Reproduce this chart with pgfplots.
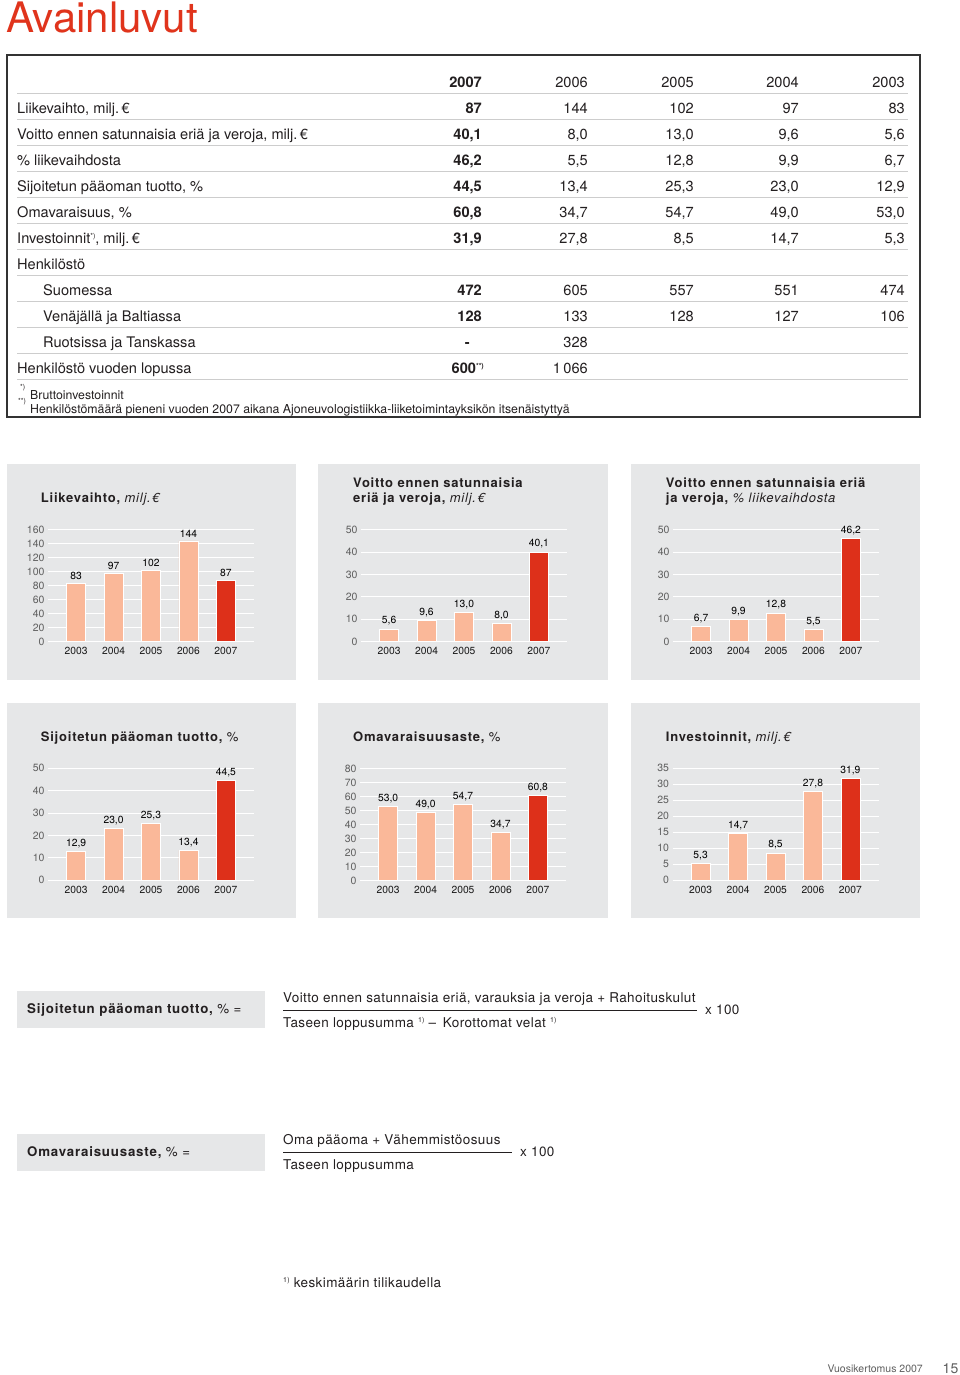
\documentclass[border=0pt]{standalone}
\usepackage{fontspec}
\setmainfont{TeX Gyre Heros}
\newfontfamily\ttlfont[LetterSpace=6]{TeX Gyre Heros}
\newfontfamily\frmfont[LetterSpace=3]{TeX Gyre Heros}
\usepackage{pgfplots}
\pgfplotsset{compat=1.18}

\definecolor{akred}{RGB}{224,52,28}
\definecolor{barlight}{RGB}{250,184,153}
\definecolor{bardark}{RGB}{221,48,26}
\definecolor{panel}{RGB}{230,231,232}
\definecolor{rulegray}{RGB}{205,205,205}
\definecolor{ink}{RGB}{35,31,32}
\definecolor{tickgray}{RGB}{95,95,95}

\newcommand\tb{\fontsize{14.6}{16}\selectfont}
\newcommand\fsup[1]{\raisebox{5pt}{\fontsize{7}{7}\selectfont #1}}
\newcommand\ttl{\ttlfont\fontsize{13}{15}\selectfont\bfseries}
\newcommand\subt{\itshape\mdseries}

% table row: baseline, label, 2007, 2006, 2005, 2004, 2003
\newcommand\trow[7]{%
  \node[anchor=base west] at (17,#1) {#2};
  \node[anchor=base east] at (482,#1) {\bfseries #3};
  \node[anchor=base east] at (588,#1) {#4};
  \node[anchor=base east] at (694,#1) {#5};
  \node[anchor=base east] at (799,#1) {#6};
  \node[anchor=base east] at (905,#1) {#7};
}

\pgfplotsset{
  kpi/.style={
    ybar, scale only axis, width=206pt, height=112pt,
    anchor=south west,
    xmin=-0.75, xmax=4.75, ymin=0,
    axis line style={draw=none}, major tick length=0pt,
    ymajorgrids, grid style={white, line width=1.1pt},
    xtick={0,1,2,3,4}, xticklabels={2003,2004,2005,2006,2007},
    xticklabel style={font=\fontsize{10.3}{12}\selectfont, text=black!90, yshift=-2pt},
    yticklabel style={font=\fontsize{10.5}{12}\selectfont, text=tickgray},
    /pgf/number format/assume math mode=true,
    every node near coord/.append style={font=\fontsize{10.3}{12}\selectfont, text=black},
    clip=false,
  },
  onedec/.style={nodes near coords={\pgfmathprintnumber[fixed,fixed zerofill,precision=1,use comma]{\pgfplotspointmeta}}},
  lightbar/.style={fill=barlight, draw=white, line width=0.7pt, bar shift=0pt, bar width=19pt},
  darkbar/.style={fill=bardark, draw=white, line width=0.7pt, bar shift=0pt, bar width=19pt},
}

\begin{document}
\begin{tikzpicture}
\begin{scope}[x=1pt,y=-1pt,every node/.style={inner sep=0pt, text=ink}]
\path[use as bounding box, fill=white] (0,0) rectangle (960,1375);

% title
\node[anchor=base west, text=akred] at (6,32.5) {\fontsize{42}{46}\selectfont Avainluvut};

% key figures table
\draw[line width=1.2pt, draw=black!80] (7,55) rectangle (920,417);
\foreach \y in {93.5,119.5,145.5,171.5,197.5,223.5,249.5,275.5,301.5,327.5,353.5,379.5}
  \draw[rulegray, line width=1.2pt] (17,\y) -- (908,\y);
\begin{scope}[font=\tb]
\trow{87.5}{}{2007}{2006}{2005}{2004}{2003}
\trow{113.5}{Liikevaihto, milj.\,€}{87}{144}{102}{97}{83}
\trow{139.5}{Voitto ennen satunnaisia eriä ja veroja, milj.\,€}{40,1}{8,0}{13,0}{9,6}{5,6}
\trow{165.5}{\% liikevaihdosta}{46,2}{5,5}{12,8}{9,9}{6,7}
\trow{191.5}{Sijoitetun pääoman tuotto, \%}{44,5}{13,4}{25,3}{23,0}{12,9}
\trow{217.5}{Omavaraisuus, \%}{60,8}{34,7}{54,7}{49,0}{53,0}
\trow{243.5}{Investoinnit\fsup{*)}, milj.\,€}{31,9}{27,8}{8,5}{14,7}{5,3}
\node[anchor=base west] at (17,269.5) {Henkilöstö};
\node[anchor=base west] at (43,295.5) {Suomessa};
\trow{295.5}{}{472}{605}{557}{551}{474}
\node[anchor=base west] at (43,321.5) {Venäjällä ja Baltiassa};
\trow{321.5}{}{128}{133}{128}{127}{106}
\node[anchor=base west] at (43,347.5) {Ruotsissa ja Tanskassa};
\node[anchor=base east] at (470,347.5) {\bfseries -};
\node[anchor=base east] at (588,347.5) {328};
\node[anchor=base west] at (17,373.5) {Henkilöstö vuoden lopussa};
\node[anchor=base east] at (484,373.5) {\bfseries 600\fsup{**)}};
\node[anchor=base east] at (588,373.5) {1\,066};
\end{scope}
\begin{scope}[font=\fontsize{12.3}{13}\selectfont]
\node[anchor=base west] at (20,389) {\fontsize{7}{7}\selectfont *)};
\node[anchor=base west] at (30,399) {Bruttoinvestoinnit};
\node[anchor=base west] at (18,403) {\fontsize{7}{7}\selectfont **)};
\node[anchor=base west] at (30,413) {Henkilöstömäärä pieneni vuoden 2007 aikana Ajoneuvologistiikka-liiketoimintayksikön itsenäistyttyä};
\end{scope}

% chart panels
\fill[panel] (7,464) rectangle (296,680);
\fill[panel] (318,464) rectangle (608,680);
\fill[panel] (631,464) rectangle (920,680);
\fill[panel] (7,703) rectangle (296,918);
\fill[panel] (318,703) rectangle (608,918);
\fill[panel] (631,703) rectangle (920,918);

\node[anchor=base west] at (40.7,502) {\ttl Liikevaihto, {\subt milj.\,€}};
\node[anchor=base west] at (353,487.5) {\ttl Voitto ennen satunnaisia};
\node[anchor=base west] at (353,502) {\ttl eriä ja veroja, {\subt milj.\,€}};
\node[anchor=base west] at (665.7,487.5) {\ttl Voitto ennen satunnaisia eriä};
\node[anchor=base west] at (665.7,502) {\ttl ja veroja, {\subt \% liikevaihdosta}};
\node[anchor=base west] at (40.7,741.5) {\ttl Sijoitetun pääoman tuotto, {\mdseries \%}};
\node[anchor=base west] at (353,741.5) {\ttl Omavaraisuusaste, {\mdseries \%}};
\node[anchor=base west] at (665.7,741.5) {\ttl Investoinnit, {\subt milj.\,€}};

% formulas
\fill[panel] (17,991) rectangle (265,1028);
\node[anchor=base west] at (27,1013) {\ttl\fontsize{13.3}{15}\selectfont Sijoitetun pääoman tuotto, {\mdseries \% =}};
\begin{scope}[font=\frmfont\fontsize{13.5}{15}\selectfont]
\node[anchor=base west] at (283,1002) {Voitto ennen satunnaisia eriä, varauksia ja veroja + Rahoituskulut};
\draw[ink, line width=1pt] (283,1010) -- (697,1010);
\node[anchor=base west] at (705,1014.5) {x 100};
\node[anchor=base west] at (283,1027) {Taseen loppusumma \fsup{1)} –\enspace Korottomat velat \fsup{1)}};
\end{scope}

\fill[panel] (17,1134) rectangle (265,1171);
\node[anchor=base west] at (27,1156) {\ttl\fontsize{13.3}{15}\selectfont Omavaraisuusaste, {\mdseries \% =}};
\begin{scope}[font=\frmfont\fontsize{13.5}{15}\selectfont]
\node[anchor=base west] at (283,1144) {Oma pääoma + Vähemmistöosuus};
\draw[ink, line width=1pt] (283,1152) -- (512,1152);
\node[anchor=base west] at (520,1156.5) {x 100};
\node[anchor=base west] at (283,1169) {Taseen loppusumma};
\node[anchor=base west] at (283,1287) {\fsup{1)} keskimäärin tilikaudella};
\end{scope}

% footer
\node[anchor=base east, text=tickgray] at (923,1372) {\fontsize{10.5}{12}\selectfont Vuosikertomus 2007};
\node[anchor=base east, text=tickgray] at (958.5,1373) {\fontsize{14}{16}\selectfont 15};
\end{scope}

% Liikevaihto
\begin{axis}[kpi, at={(48pt,-641.7pt)}, ymax=160, ytick={0,20,...,160}, nodes near coords]
\addplot[lightbar] coordinates {(0,83) (1,97) (2,102) (3,144)};
\addplot[darkbar] coordinates {(4,87)};
\end{axis}
% Voitto, milj. EUR
\begin{axis}[kpi, onedec, at={(361pt,-641.7pt)}, ymax=50, ytick={0,10,...,50}]
\addplot[lightbar] coordinates {(0,5.6) (1,9.6) (2,13.0) (3,8.0)};
\addplot[darkbar] coordinates {(4,40.1)};
\end{axis}
% Voitto, % liikevaihdosta
\begin{axis}[kpi, onedec, at={(673pt,-641.7pt)}, ymax=50, ytick={0,10,...,50}]
\addplot[lightbar] coordinates {(0,6.7) (1,9.9) (2,12.8) (3,5.5)};
\addplot[darkbar] coordinates {(4,46.2)};
\end{axis}
% Sijoitetun paaoman tuotto
\begin{axis}[kpi, onedec, at={(48pt,-880.3pt)}, ymax=50, ytick={0,10,...,50}]
\addplot[lightbar] coordinates {(0,12.9) (1,23.0) (2,25.3) (3,13.4)};
\addplot[darkbar] coordinates {(4,44.5)};
\end{axis}
% Omavaraisuusaste
\begin{axis}[kpi, onedec, at={(360pt,-880.8pt)}, ymax=80, ytick={0,10,...,80}]
\addplot[lightbar] coordinates {(0,53.0) (1,49.0) (2,54.7) (3,34.7)};
\addplot[darkbar] coordinates {(4,60.8)};
\end{axis}
% Investoinnit
\begin{axis}[kpi, onedec, at={(672.5pt,-880.3pt)}, ymax=35, ytick={0,5,...,35}]
\addplot[lightbar] coordinates {(0,5.3) (1,14.7) (2,8.5) (3,27.8)};
\addplot[darkbar] coordinates {(4,31.9)};
\end{axis}
\end{tikzpicture}
\end{document}
